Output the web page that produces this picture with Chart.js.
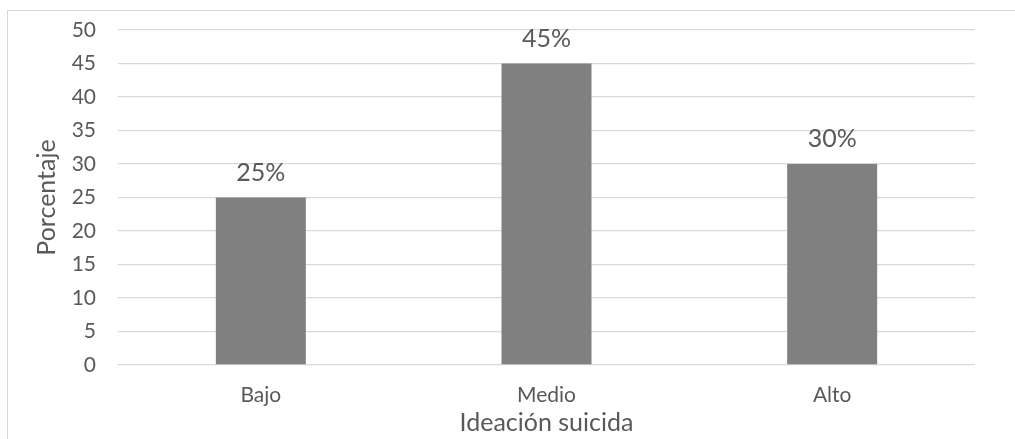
<!DOCTYPE html>
<html lang="es">
<head>
<meta charset="utf-8">
<title>Ideación suicida</title>
<script src="https://cdn.jsdelivr.net/npm/chart.js@4.4.1/dist/chart.umd.min.js"></script>
<style>
  html, body { margin: 0; padding: 0; background: #ffffff; }
  #wrap { position: relative; width: 1015px; height: 439px; overflow: hidden; }
  #frame {
    position: absolute; left: 7px; top: 10px; width: 1020px; height: 440px;
    border-left: 1.5px solid #d9d9d9; border-top: 1.5px solid #d9d9d9;
    box-sizing: border-box;
  }
  #chart { position: absolute; left: 0; top: 0; }
</style>
</head>
<body>
<div id="wrap">
  <div id="frame"></div>
  <canvas id="chart" width="1015" height="439"></canvas>
</div>
<script>
// Nivel de ideación suicida y porcentaje de participantes en cada nivel
const categories = ['Bajo', 'Medio', 'Alto'];
const porcentajes = [25, 45, 30];

const axisTitleX = 'Ideación suicida';
const axisTitleY = 'Porcentaje';

const textColor = '#595959';
const gridColor = '#d9d9d9';
const barColor = '#808080';

Chart.defaults.font.family = 'Lato, "Open Sans", sans-serif';
Chart.defaults.color = textColor;

// Value labels above each bar, read from the dataset values
const valueLabels = {
  id: 'valueLabels',
  afterDatasetsDraw(chart) {
    const ctx = chart.ctx;
    const meta = chart.getDatasetMeta(0);
    const values = chart.data.datasets[0].data;
    ctx.save();
    ctx.font = '25px Lato, "Open Sans", sans-serif';
    ctx.fillStyle = textColor;
    ctx.textAlign = 'center';
    ctx.textBaseline = 'alphabetic';
    meta.data.forEach((bar, i) => {
      ctx.fillText(values[i] + '%', bar.x, bar.y - 17);
    });
    ctx.restore();
  }
};

new Chart(document.getElementById('chart'), {
  type: 'bar',
  data: {
    labels: categories,
    datasets: [{
      data: porcentajes,
      backgroundColor: barColor,
      borderWidth: 0,
      barPercentage: 1,
      categoryPercentage: 0.315
    }]
  },
  options: {
    responsive: false,
    animation: false,
    layout: { padding: { top: 30, right: 40, bottom: 0, left: 0 } },
    plugins: {
      legend: { display: false },
      tooltip: { enabled: false }
    },
    scales: {
      x: {
        grid: { display: false, drawTicks: false },
        border: { display: false },
        ticks: { font: { size: 21 }, color: textColor, padding: 18 },
        title: {
          display: true,
          text: axisTitleX,
          color: textColor,
          font: { size: 25 },
          padding: { top: 0, bottom: 1 }
        },
        afterFit(scale) { scale.height = 74; }
      },
      y: {
        min: 0,
        max: 50,
        ticks: { stepSize: 5, font: { size: 21 }, color: textColor, padding: 22 },
        grid: { color: gridColor, lineWidth: 1.3, drawTicks: false },
        border: { display: false },
        title: {
          display: true,
          text: axisTitleY,
          color: textColor,
          font: { size: 25 },
          padding: { top: 32, bottom: 0 }
        },
        afterFit(scale) {
          scale.width = 118;
          // keep the plot top fixed by the layout padding only
          scale.paddingTop = 0;
          scale.paddingBottom = 0;
        }
      }
    }
  },
  plugins: [valueLabels]
});
</script>
</body>
</html>
